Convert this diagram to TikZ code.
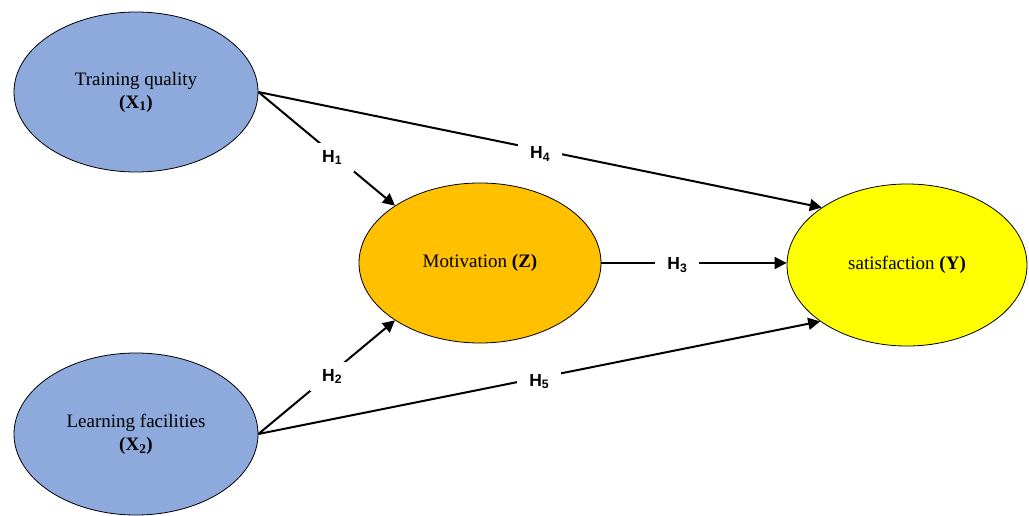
\documentclass[tikz,border=0pt]{standalone}
\usepackage{fontspec}
\setmainfont{Liberation Serif}
\setsansfont{Liberation Sans}
\usetikzlibrary{shapes.geometric,arrows.meta}
\definecolor{bluefill}{HTML}{8EA9DB}
\definecolor{orangefill}{HTML}{FFC000}
\definecolor{yellowfill}{HTML}{FFFF00}
\tikzset{
  var/.style={ellipse, draw=black, line width=0.8pt, align=center, font=\fontsize{19}{23}\selectfont},
  link/.style={line width=2pt, -{Triangle[length=12pt,width=12pt]}},
  hlab/.style={fill=white, inner xsep=12pt, inner ysep=7pt, yshift=-4pt, font=\sffamily\bfseries\fontsize{17.5}{20}\selectfont}
}
\begin{document}
\begin{tikzpicture}[x=1pt,y=-1pt]
\useasboundingbox (0,0) rectangle (1029,516);
\node[var, fill=bluefill, minimum width=244pt, minimum height=160pt] (tq) at (136,92) {Training quality\\\textbf{(X\textsubscript{1})}};
\node[var, fill=bluefill, minimum width=244pt, minimum height=162pt] (lf) at (136,434) {Learning facilities\\\textbf{(X\textsubscript{2})}};
\node[var, fill=orangefill, minimum width=242pt, minimum height=160pt] (mot) at (480,263) {Motivation \textbf{(Z)}};
\node[var, fill=yellowfill, minimum width=240pt, minimum height=162pt] (sat) at (907,265) {satisfaction \textbf{(Y)}};
\draw[link] (tq.east) -- node[hlab, pos=0.54] {H\textsubscript{1}} (mot.146);
\draw[link] (tq.east) -- node[hlab, pos=0.5] {H\textsubscript{4}} (sat.146);
\draw[link] (mot.east) -- node[hlab, pos=0.41, yshift=2pt] {H\textsubscript{3}} (mot.east -| sat.west);
\draw[link] (lf.east) -- node[hlab, pos=0.54] {H\textsubscript{2}} (mot.214);
\draw[link] (lf.east) -- node[hlab, pos=0.5] {H\textsubscript{5}} (sat.213);
\end{tikzpicture}
\end{document}
